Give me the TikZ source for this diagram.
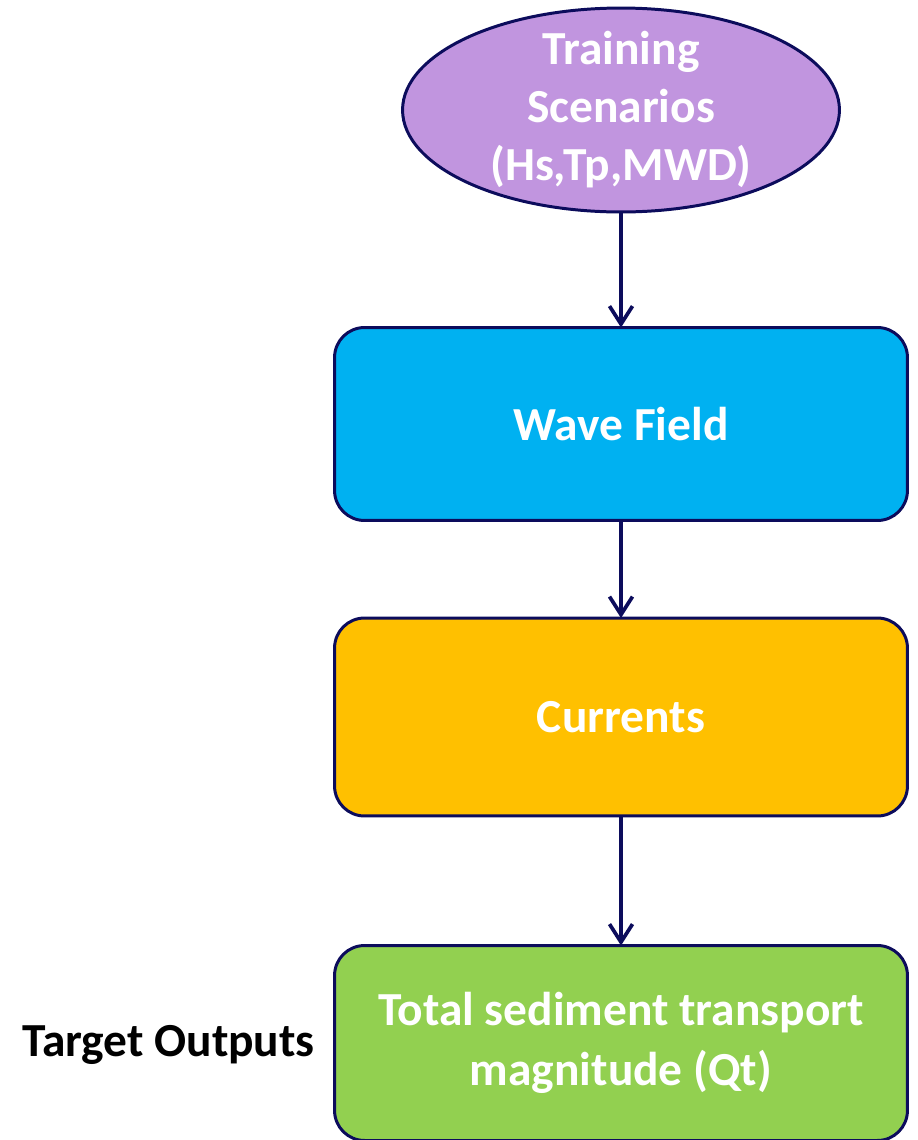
\documentclass[tikz,border=0pt]{standalone}
\usepackage{fontspec}
\setmainfont{Carlito}
\usetikzlibrary{arrows.meta,shapes.geometric,positioning}
\definecolor{flownavy}{HTML}{0C0C5C}
\definecolor{flowpurple}{HTML}{C195DF}
\definecolor{flowblue}{HTML}{00B1F1}
\definecolor{flowgold}{HTML}{FFC000}
\definecolor{flowgreen}{HTML}{92D050}

\begin{document}
\begin{tikzpicture}[x=0.02cm, y=-0.02cm,
  stage/.style={draw=flownavy, line width=1.7pt, rounded corners=0.6cm,
    minimum width=11.46cm, minimum height=3.86cm, outer sep=0pt,
    align=center, text=white, font=\bfseries\fontsize{27}{34}\selectfont},
  flow/.style={draw=flownavy, line width=2.1pt,
    -{Straight Barb[length=0.36cm, width=0.46cm, line width=2.1pt]}}]
  \useasboundingbox (0,0) rectangle (917,1140);
  % input scenarios
  \node[ellipse, draw=flownavy, line width=1.7pt, fill=flowpurple,
    minimum width=8.74cm, minimum height=4.08cm, inner xsep=0pt, inner ysep=-0.2cm,
    outer sep=0pt, align=center, text=white,
    font=\bfseries\fontsize{27}{33}\selectfont]
    (scen) at (621,110) {Training\\Scenarios\\(Hs,Tp,MWD)};
  % model stages
  \node[stage, fill=flowblue] (wave) at (621,424) {Wave Field};
  \node[stage, fill=flowgold, minimum height=3.96cm] (curr) at (621,717) {Currents};
  \node[stage, fill=flowgreen, minimum height=3.9cm] (qt) at (621,1043)
    {Total sediment transport\\magnitude (Qt)};
  \node[font=\bfseries\fontsize{27}{32}\selectfont, anchor=east] (target)
    at (321,1045) {Target Outputs};
  \draw[flow] (scen) -- (wave);
  \draw[flow] (wave) -- (curr);
  \draw[flow] (curr) -- (qt);
\end{tikzpicture}
\end{document}
